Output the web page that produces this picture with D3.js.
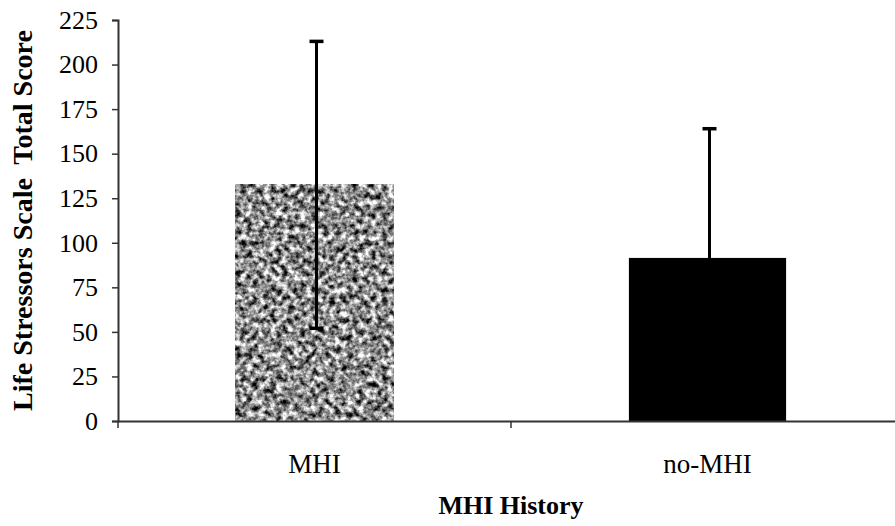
<!DOCTYPE html>
<html>
<head>
<meta charset="utf-8">
<script src="https://cdn.jsdelivr.net/npm/d3@7"></script>
<style>
  html, body { margin: 0; padding: 0; background: #fff; }
  svg { display: block; }
</style>
</head>
<body>
<div id="chart"></div>
<script>
const categories = ["MHI", "no-MHI"];
const means = [132.5, 91.5];
const sds = [80.5, 72.5];
const yTicks = [0, 25, 50, 75, 100, 125, 150, 175, 200, 225];

const W = 895, H = 526;
const margin = { top: 20, left: 118, bottom: 105 };
const plotRight = 904;
const serif = "'Liberation Serif', 'Times New Roman', serif";

const svg = d3.select("#chart").append("svg")
  .attr("width", W).attr("height", H)
  .attr("viewBox", `0 0 ${W} ${H}`);

// speckled texture for the MHI bar
const defs = svg.append("defs");
const speck = defs.append("filter").attr("id", "speck")
  .attr("x", 0).attr("y", 0).attr("width", 1).attr("height", 1)
  .attr("color-interpolation-filters", "sRGB");
speck.append("feTurbulence").attr("type", "fractalNoise")
  .attr("baseFrequency", 0.17).attr("numOctaves", 3).attr("seed", 7);
speck.append("feColorMatrix").attr("type", "matrix")
  .attr("values", "1 0 0 0 0  1 0 0 0 0  1 0 0 0 0  0 0 0 0 1");
const ct = speck.append("feComponentTransfer");
["feFuncR", "feFuncG", "feFuncB"].forEach(f =>
  ct.append(f).attr("type", "linear").attr("slope", 2.0).attr("intercept", -0.45));

const y = d3.scaleLinear().domain([0, 225]).range([H - margin.bottom, margin.top]);
const x = d3.scaleBand().domain(categories).range([margin.left, plotRight]).padding(0);
const barW = x.bandwidth() * 0.4;

// bars
svg.append("g").selectAll("rect").data(categories).join("rect")
  .attr("x", d => x(d) + (x.bandwidth() - barW) / 2)
  .attr("y", (d, i) => y(means[i]))
  .attr("width", barW)
  .attr("height", (d, i) => y(0) - y(means[i]))
  .attr("fill", (d, i) => i === 0 ? "#888" : "#000")
  .attr("filter", (d, i) => i === 0 ? "url(#speck)" : null);

// error bars
const err = svg.append("g").attr("stroke", "#000");
categories.forEach((c, i) => {
  const cx = x(c) + x.bandwidth() / 2 + 2;
  const lo = Math.max(0, means[i] - sds[i]), hi = means[i] + sds[i];
  err.append("line").attr("x1", cx).attr("x2", cx)
    .attr("y1", y(lo)).attr("y2", y(hi)).attr("stroke-width", 3);
  [lo, hi].forEach(v => err.append("line")
    .attr("x1", cx - 7).attr("x2", cx + 7)
    .attr("y1", y(v)).attr("y2", y(v)).attr("stroke-width", 3.5));
});

// y axis
const yAxis = svg.append("g").attr("transform", `translate(${margin.left},0)`)
  .call(d3.axisLeft(y).tickValues(yTicks).tickSize(6).tickPadding(14));
yAxis.select(".domain").attr("stroke", "#333").attr("stroke-width", 2);
yAxis.selectAll(".tick line").attr("stroke", "#333").attr("stroke-width", 1.5);
yAxis.selectAll(".tick text")
  .attr("font-family", serif).attr("font-size", 26).attr("fill", "#000");

// x axis, ticks on category boundaries
const xAxis = svg.append("g").attr("transform", `translate(0,${y(0)})`)
  .call(d3.axisBottom(x).tickSize(0).tickPadding(33));
xAxis.select(".domain").attr("stroke", "#333").attr("stroke-width", 2);
xAxis.selectAll(".tick text")
  .attr("font-family", serif).attr("font-size", 27).attr("fill", "#000");
const bounds = categories.map(c => x(c)).concat([plotRight]);
xAxis.selectAll(".bound").data(bounds).join("line")
  .attr("class", "bound")
  .attr("x1", d => d).attr("x2", d => d)
  .attr("y1", 0).attr("y2", 7)
  .attr("stroke", "#333").attr("stroke-width", 1.5);

// titles
svg.append("text")
  .attr("transform", `translate(32,${(y(0) + y(225)) / 2}) rotate(-90)`)
  .attr("text-anchor", "middle")
  .attr("font-family", serif)
  .attr("font-weight", "bold").attr("font-size", 28)
  .attr("xml:space", "preserve")
  .text("Life Stressors Scale  Total Score");

svg.append("text")
  .attr("x", 511).attr("y", 514)
  .attr("text-anchor", "middle")
  .attr("font-family", serif)
  .attr("font-weight", "bold").attr("font-size", 26)
  .text("MHI History");
</script>
</body>
</html>
